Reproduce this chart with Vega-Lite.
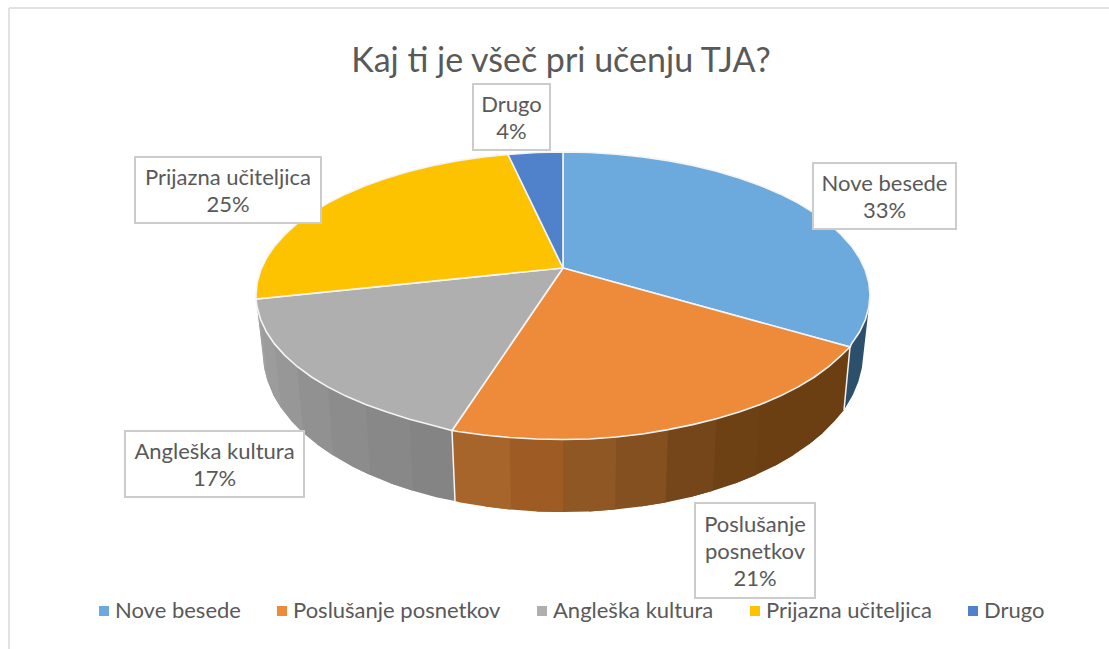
{
"$schema":"https://vega.github.io/schema/vega-lite/v6.json",
"width":1109,"height":649,"padding":0,"autosize":{"type":"none"},
"background":"white",
"view":{"stroke":null},
"title":{"text":"Kaj ti je všeč pri učenju TJA?","anchor":"middle","frame":"group","font":"Lato","fontSize":34,"fontWeight":"normal","color":"#595959","offset":-79,"dx":6.5},
"datasets":{
"slices":[
{"s":"Nove besede","o":0,"x":563,"y":268},{"s":"Nove besede","o":1,"x":563,"y":152},{"s":"Nove besede","o":2,"x":589.8,"y":152.5},{"s":"Nove besede","o":3,"x":616.3,"y":154.2},{"s":"Nove besede","o":4,"x":642.5,"y":156.9},{"s":"Nove besede","o":5,"x":668,"y":160.6},{"s":"Nove besede","o":6,"x":692.7,"y":165.4},{"s":"Nove besede","o":7,"x":716.5,"y":171.2},{"s":"Nove besede","o":8,"x":739.1,"y":177.9},{"s":"Nove besede","o":9,"x":760.3,"y":185.5},{"s":"Nove besede","o":10,"x":780.1,"y":193.9},{"s":"Nove besede","o":11,"x":798.2,"y":203.1},{"s":"Nove besede","o":12,"x":814.5,"y":213},{"s":"Nove besede","o":13,"x":828.9,"y":223.5},{"s":"Nove besede","o":14,"x":841.2,"y":234.6},{"s":"Nove besede","o":15,"x":851.5,"y":246.1},{"s":"Nove besede","o":16,"x":859.5,"y":258},{"s":"Nove besede","o":17,"x":865.3,"y":270.2},{"s":"Nove besede","o":18,"x":868.8,"y":282.5},{"s":"Nove besede","o":19,"x":870,"y":295},{"s":"Nove besede","o":20,"x":868.8,"y":307.5},{"s":"Nove besede","o":21,"x":865.3,"y":319.8},{"s":"Nove besede","o":22,"x":859.5,"y":332},{"s":"Nove besede","o":23,"x":851.5,"y":343.9},{"s":"Nove besede","o":24,"x":850,"y":347},{"s":"Nove besede","o":25,"x":563,"y":268},
{"s":"Poslušanje posnetkov","o":0,"x":563,"y":268},{"s":"Poslušanje posnetkov","o":1,"x":850,"y":347},{"s":"Poslušanje posnetkov","o":2,"x":841.2,"y":355.4},{"s":"Poslušanje posnetkov","o":3,"x":828.9,"y":366.5},{"s":"Poslušanje posnetkov","o":4,"x":814.5,"y":377},{"s":"Poslušanje posnetkov","o":5,"x":798.2,"y":386.9},{"s":"Poslušanje posnetkov","o":6,"x":780.1,"y":396.1},{"s":"Poslušanje posnetkov","o":7,"x":760.3,"y":404.5},{"s":"Poslušanje posnetkov","o":8,"x":739.1,"y":412.1},{"s":"Poslušanje posnetkov","o":9,"x":716.5,"y":418.8},{"s":"Poslušanje posnetkov","o":10,"x":692.7,"y":424.6},{"s":"Poslušanje posnetkov","o":11,"x":668,"y":429.6},{"s":"Poslušanje posnetkov","o":12,"x":642.5,"y":434},{"s":"Poslušanje posnetkov","o":13,"x":616.3,"y":437},{"s":"Poslušanje posnetkov","o":14,"x":589.8,"y":439},{"s":"Poslušanje posnetkov","o":15,"x":563,"y":439.5},{"s":"Poslušanje posnetkov","o":16,"x":536.2,"y":439},{"s":"Poslušanje posnetkov","o":17,"x":509.7,"y":437.5},{"s":"Poslušanje posnetkov","o":18,"x":483.5,"y":435},{"s":"Poslušanje posnetkov","o":19,"x":458,"y":431.5},{"s":"Poslušanje posnetkov","o":20,"x":452,"y":430.5},{"s":"Poslušanje posnetkov","o":21,"x":563,"y":268},
{"s":"Angleška kultura","o":0,"x":563,"y":268},{"s":"Angleška kultura","o":1,"x":452,"y":430.5},{"s":"Angleška kultura","o":2,"x":433.3,"y":425.5},{"s":"Angleška kultura","o":3,"x":409.5,"y":419.3},{"s":"Angleška kultura","o":4,"x":386.9,"y":412.1},{"s":"Angleška kultura","o":5,"x":365.7,"y":404.5},{"s":"Angleška kultura","o":6,"x":345.9,"y":396.1},{"s":"Angleška kultura","o":7,"x":327.8,"y":386.9},{"s":"Angleška kultura","o":8,"x":311.5,"y":377},{"s":"Angleška kultura","o":9,"x":297.1,"y":366.5},{"s":"Angleška kultura","o":10,"x":284.8,"y":355.4},{"s":"Angleška kultura","o":11,"x":274.5,"y":343.9},{"s":"Angleška kultura","o":12,"x":266.5,"y":332},{"s":"Angleška kultura","o":13,"x":260.7,"y":319.8},{"s":"Angleška kultura","o":14,"x":257.2,"y":307.5},{"s":"Angleška kultura","o":15,"x":256,"y":299},{"s":"Angleška kultura","o":16,"x":563,"y":268},
{"s":"Prijazna učiteljica","o":0,"x":563,"y":268},{"s":"Prijazna učiteljica","o":1,"x":256,"y":299},{"s":"Prijazna učiteljica","o":2,"x":256,"y":295},{"s":"Prijazna učiteljica","o":3,"x":257.2,"y":282.5},{"s":"Prijazna učiteljica","o":4,"x":260.7,"y":270.2},{"s":"Prijazna učiteljica","o":5,"x":266.5,"y":258},{"s":"Prijazna učiteljica","o":6,"x":274.5,"y":246.1},{"s":"Prijazna učiteljica","o":7,"x":284.8,"y":234.6},{"s":"Prijazna učiteljica","o":8,"x":297.1,"y":223.5},{"s":"Prijazna učiteljica","o":9,"x":311.5,"y":213},{"s":"Prijazna učiteljica","o":10,"x":327.8,"y":203.1},{"s":"Prijazna učiteljica","o":11,"x":345.9,"y":193.9},{"s":"Prijazna učiteljica","o":12,"x":365.7,"y":185.5},{"s":"Prijazna učiteljica","o":13,"x":386.9,"y":177.9},{"s":"Prijazna učiteljica","o":14,"x":409.5,"y":171.2},{"s":"Prijazna učiteljica","o":15,"x":433.3,"y":165.4},{"s":"Prijazna učiteljica","o":16,"x":458,"y":160.6},{"s":"Prijazna učiteljica","o":17,"x":483.5,"y":156.9},{"s":"Prijazna učiteljica","o":18,"x":508,"y":154.5},{"s":"Prijazna učiteljica","o":19,"x":563,"y":268},
{"s":"Drugo","o":0,"x":563,"y":268},{"s":"Drugo","o":1,"x":508,"y":154.5},{"s":"Drugo","o":2,"x":536.2,"y":152.5},{"s":"Drugo","o":3,"x":563,"y":152},{"s":"Drugo","o":4,"x":563,"y":268}
],
"sides":[
{"s":"b","o":0,"x":868.8,"y":307.5},{"s":"b","o":1,"x":865.3,"y":319.8},{"s":"b","o":2,"x":859.5,"y":332},{"s":"b","o":3,"x":851.5,"y":343.9},{"s":"b","o":4,"x":850,"y":347},{"s":"b","o":5,"x":844,"y":410},{"s":"b","o":6,"x":852.8,"y":394.9},{"s":"b","o":7,"x":858.4,"y":381.4},{"s":"b","o":8,"x":861.9,"y":367.8},{"s":"b","o":9,"x":868.8,"y":307.5},
{"s":"o1","o":0,"x":850,"y":347},{"s":"o1","o":1,"x":841.2,"y":355.4},{"s":"o1","o":2,"x":828.9,"y":366.5},{"s":"o1","o":3,"x":814.5,"y":377},{"s":"o1","o":4,"x":808.8,"y":444.6},{"s":"o1","o":5,"x":822.8,"y":433},{"s":"o1","o":6,"x":834.9,"y":420.8},{"s":"o1","o":7,"x":844,"y":410},{"s":"o1","o":8,"x":850,"y":347},
{"s":"o2","o":0,"x":828.9,"y":366.5},{"s":"o2","o":1,"x":814.5,"y":377},{"s":"o2","o":2,"x":798.2,"y":386.9},{"s":"o2","o":3,"x":780.1,"y":396.1},{"s":"o2","o":4,"x":775.1,"y":465.7},{"s":"o2","o":5,"x":792.8,"y":455.6},{"s":"o2","o":6,"x":808.8,"y":444.6},{"s":"o2","o":7,"x":822.8,"y":433},{"s":"o2","o":8,"x":828.9,"y":366.5},
{"s":"o3","o":0,"x":798.2,"y":386.9},{"s":"o3","o":1,"x":780.1,"y":396.1},{"s":"o3","o":2,"x":760.3,"y":404.5},{"s":"o3","o":3,"x":739.1,"y":412.1},{"s":"o3","o":4,"x":735.1,"y":483.4},{"s":"o3","o":5,"x":755.8,"y":475},{"s":"o3","o":6,"x":775.1,"y":465.7},{"s":"o3","o":7,"x":792.8,"y":455.6},{"s":"o3","o":8,"x":798.2,"y":386.9},
{"s":"o4","o":0,"x":760.3,"y":404.5},{"s":"o4","o":1,"x":739.1,"y":412.1},{"s":"o4","o":2,"x":716.5,"y":418.8},{"s":"o4","o":3,"x":692.7,"y":424.6},{"s":"o4","o":4,"x":689.8,"y":497.2},{"s":"o4","o":5,"x":713,"y":490.8},{"s":"o4","o":6,"x":735.1,"y":483.4},{"s":"o4","o":7,"x":755.8,"y":475},{"s":"o4","o":8,"x":760.3,"y":404.5},
{"s":"o5","o":0,"x":716.5,"y":418.8},{"s":"o5","o":1,"x":692.7,"y":424.6},{"s":"o5","o":2,"x":668,"y":429.6},{"s":"o5","o":3,"x":642.5,"y":434},{"s":"o5","o":4,"x":640.6,"y":506.6},{"s":"o5","o":5,"x":665.6,"y":502.5},{"s":"o5","o":6,"x":689.8,"y":497.2},{"s":"o5","o":7,"x":713,"y":490.8},{"s":"o5","o":8,"x":716.5,"y":418.8},
{"s":"o6","o":0,"x":668,"y":429.6},{"s":"o6","o":1,"x":642.5,"y":434},{"s":"o6","o":2,"x":616.3,"y":437},{"s":"o6","o":3,"x":589.8,"y":439},{"s":"o6","o":4,"x":589.2,"y":511.4},{"s":"o6","o":5,"x":615.1,"y":509.6},{"s":"o6","o":6,"x":640.6,"y":506.6},{"s":"o6","o":7,"x":665.6,"y":502.5},{"s":"o6","o":8,"x":668,"y":429.6},
{"s":"o7","o":0,"x":616.3,"y":437},{"s":"o7","o":1,"x":589.8,"y":439},{"s":"o7","o":2,"x":563,"y":439.5},{"s":"o7","o":3,"x":536.2,"y":439},{"s":"o7","o":4,"x":536.8,"y":511.4},{"s":"o7","o":5,"x":563,"y":512},{"s":"o7","o":6,"x":589.2,"y":511.4},{"s":"o7","o":7,"x":615.1,"y":509.6},{"s":"o7","o":8,"x":616.3,"y":437},
{"s":"o8","o":0,"x":563,"y":439.5},{"s":"o8","o":1,"x":536.2,"y":439},{"s":"o8","o":2,"x":509.7,"y":437.5},{"s":"o8","o":3,"x":483.5,"y":435},{"s":"o8","o":4,"x":485.4,"y":506.6},{"s":"o8","o":5,"x":510.9,"y":509.6},{"s":"o8","o":6,"x":536.8,"y":511.4},{"s":"o8","o":7,"x":563,"y":512},{"s":"o8","o":8,"x":563,"y":439.5},
{"s":"o9","o":0,"x":509.7,"y":437.5},{"s":"o9","o":1,"x":483.5,"y":435},{"s":"o9","o":2,"x":458,"y":431.5},{"s":"o9","o":3,"x":452,"y":430.5},{"s":"o9","o":4,"x":455,"y":501},{"s":"o9","o":5,"x":460.4,"y":502.5},{"s":"o9","o":6,"x":485.4,"y":506.6},{"s":"o9","o":7,"x":510.9,"y":509.6},{"s":"o9","o":8,"x":509.7,"y":437.5},
{"s":"g1","o":0,"x":452,"y":430.5},{"s":"g1","o":1,"x":433.3,"y":425.5},{"s":"g1","o":2,"x":409.5,"y":419.3},{"s":"g1","o":3,"x":386.9,"y":412.1},{"s":"g1","o":4,"x":390.9,"y":483.4},{"s":"g1","o":5,"x":413,"y":490.8},{"s":"g1","o":6,"x":436.2,"y":497.2},{"s":"g1","o":7,"x":455,"y":501},{"s":"g1","o":8,"x":452,"y":430.5},
{"s":"g2","o":0,"x":409.5,"y":419.3},{"s":"g2","o":1,"x":386.9,"y":412.1},{"s":"g2","o":2,"x":365.7,"y":404.5},{"s":"g2","o":3,"x":345.9,"y":396.1},{"s":"g2","o":4,"x":350.9,"y":465.7},{"s":"g2","o":5,"x":370.2,"y":475},{"s":"g2","o":6,"x":390.9,"y":483.4},{"s":"g2","o":7,"x":413,"y":490.8},{"s":"g2","o":8,"x":409.5,"y":419.3},
{"s":"g3","o":0,"x":365.7,"y":404.5},{"s":"g3","o":1,"x":345.9,"y":396.1},{"s":"g3","o":2,"x":327.8,"y":386.9},{"s":"g3","o":3,"x":311.5,"y":377},{"s":"g3","o":4,"x":317.2,"y":444.6},{"s":"g3","o":5,"x":333.2,"y":455.6},{"s":"g3","o":6,"x":350.9,"y":465.7},{"s":"g3","o":7,"x":370.2,"y":475},{"s":"g3","o":8,"x":365.7,"y":404.5},
{"s":"g4","o":0,"x":327.8,"y":386.9},{"s":"g4","o":1,"x":311.5,"y":377},{"s":"g4","o":2,"x":297.1,"y":366.5},{"s":"g4","o":3,"x":284.8,"y":355.4},{"s":"g4","o":4,"x":291.1,"y":420.8},{"s":"g4","o":5,"x":303.2,"y":433},{"s":"g4","o":6,"x":317.2,"y":444.6},{"s":"g4","o":7,"x":333.2,"y":455.6},{"s":"g4","o":8,"x":327.8,"y":386.9},
{"s":"g5","o":0,"x":297.1,"y":366.5},{"s":"g5","o":1,"x":284.8,"y":355.4},{"s":"g5","o":2,"x":274.5,"y":343.9},{"s":"g5","o":3,"x":266.5,"y":332},{"s":"g5","o":4,"x":273.2,"y":394.9},{"s":"g5","o":5,"x":281.1,"y":408},{"s":"g5","o":6,"x":291.1,"y":420.8},{"s":"g5","o":7,"x":303.2,"y":433},{"s":"g5","o":8,"x":297.1,"y":366.5},
{"s":"g6","o":0,"x":274.5,"y":343.9},{"s":"g6","o":1,"x":266.5,"y":332},{"s":"g6","o":2,"x":260.7,"y":319.8},{"s":"g6","o":3,"x":257.2,"y":307.5},{"s":"g6","o":4,"x":264.1,"y":367.8},{"s":"g6","o":5,"x":267.6,"y":381.4},{"s":"g6","o":6,"x":273.2,"y":394.9},{"s":"g6","o":7,"x":281.1,"y":408},{"s":"g6","o":8,"x":274.5,"y":343.9},
{"s":"g7","o":0,"x":260.7,"y":319.8},{"s":"g7","o":1,"x":257.2,"y":307.5},{"s":"g7","o":2,"x":256,"y":299},{"s":"g7","o":3,"x":263,"y":354},{"s":"g7","o":4,"x":264.1,"y":367.8},{"s":"g7","o":5,"x":267.6,"y":381.4},{"s":"g7","o":6,"x":260.7,"y":319.8}
],
"seams":[
{"s":"a","o":0,"x":452,"y":430.5},{"s":"a","o":1,"x":455,"y":501},
{"s":"b","o":0,"x":850,"y":347},{"s":"b","o":1,"x":844,"y":410}
],
"labels":[
{"label":"Nove besede\n33%","x0":813,"x1":956,"y0":163,"y1":229,"cx":884.5,"cy":184},
{"label":"Poslušanje\nposnetkov\n21%","x0":695,"x1":815,"y0":503,"y1":598,"cx":755,"cy":525},
{"label":"Angleška kultura\n17%","x0":125,"x1":304,"y0":431,"y1":497,"cx":214.5,"cy":452},
{"label":"Prijazna učiteljica\n25%","x0":135,"x1":321,"y0":157,"y1":223,"cx":228,"cy":178},
{"label":"Drugo\n4%","x0":473,"x1":550,"y0":84,"y1":150,"cx":511.5,"cy":105}
],
"frame":[
{"x0":9,"x1":9,"y0":8,"y1":649},
{"x0":9,"x1":1109,"y0":8,"y1":8}
]
},
"layer":[
{"data":{"name":"frame"},"mark":{"type":"rule","stroke":"#e2e2e2","strokeWidth":2},
 "encoding":{"x":{"field":"x0","type":"quantitative","scale":{"domain":[0,1109],"range":[0,1109],"nice":false,"zero":false},"axis":null},"x2":{"field":"x1"},"y":{"field":"y0","type":"quantitative","scale":{"domain":[0,649],"range":[0,649],"nice":false,"zero":false},"axis":null},"y2":{"field":"y1"}}},
{"data":{"name":"sides"},"mark":{"type":"line","filled":true,"stroke":null},
 "encoding":{"x":{"field":"x","type":"quantitative","axis":null},"y":{"field":"y","type":"quantitative","axis":null},"order":{"field":"o"},
 "fill":{"field":"s","type":"nominal","legend":null,"scale":{"domain":["b","o1","o2","o3","o4","o5","o6","o7","o8","o9","g1","g2","g3","g4","g5","g6","g7"],"range":["#2c4f6c","#6b3f12","#6b3f12","#6b3f12","#6d4114","#74461a","#845020","#8f5723","#9e5c24","#a8652b","#848484","#888888","#8c8c8c","#919191","#979797","#9c9c9c","#a2a2a2"]}}}},
{"data":{"name":"seams"},"mark":{"type":"line","stroke":"#f4f4f4","strokeWidth":1.5},
 "encoding":{"x":{"field":"x","type":"quantitative","axis":null},"y":{"field":"y","type":"quantitative","axis":null},"order":{"field":"o"},"detail":{"field":"s"}}},
{"data":{"name":"slices"},"mark":{"type":"line","filled":true,"stroke":"#f4f4f4","strokeWidth":1.6},
 "encoding":{"x":{"field":"x","type":"quantitative","axis":null},"y":{"field":"y","type":"quantitative","axis":null},"order":{"field":"o"},
 "color":{"field":"s","type":"nominal","scale":{"domain":["Nove besede","Poslušanje posnetkov","Angleška kultura","Prijazna učiteljica","Drugo"],"range":["#6caadd","#ed8b3a","#afafaf","#fdc300","#5082cc"]},
 "legend":{"title":null,"orient":"none","direction":"horizontal","legendX":93,"legendY":600,"symbolType":"square","symbolSize":100,"symbolStrokeWidth":0,"labelFont":"Lato","labelFontSize":22,"labelColor":"#595959","labelOffset":0,"columnPadding":30,"labelLimit":400}}}},
{"data":{"name":"labels"},"mark":{"type":"rect","fill":"white","stroke":"#cccccc","strokeWidth":2},
 "encoding":{"x":{"field":"x0","type":"quantitative","axis":null},"x2":{"field":"x1"},"y":{"field":"y0","type":"quantitative","axis":null},"y2":{"field":"y1"}}},
{"data":{"name":"labels"},"mark":{"type":"text","font":"Lato","fontSize":22,"color":"#595959","lineBreak":"\n","lineHeight":27,"align":"center","baseline":"middle"},
 "encoding":{"x":{"field":"cx","type":"quantitative","axis":null},"y":{"field":"cy","type":"quantitative","axis":null},"text":{"field":"label"}}}
]
}
